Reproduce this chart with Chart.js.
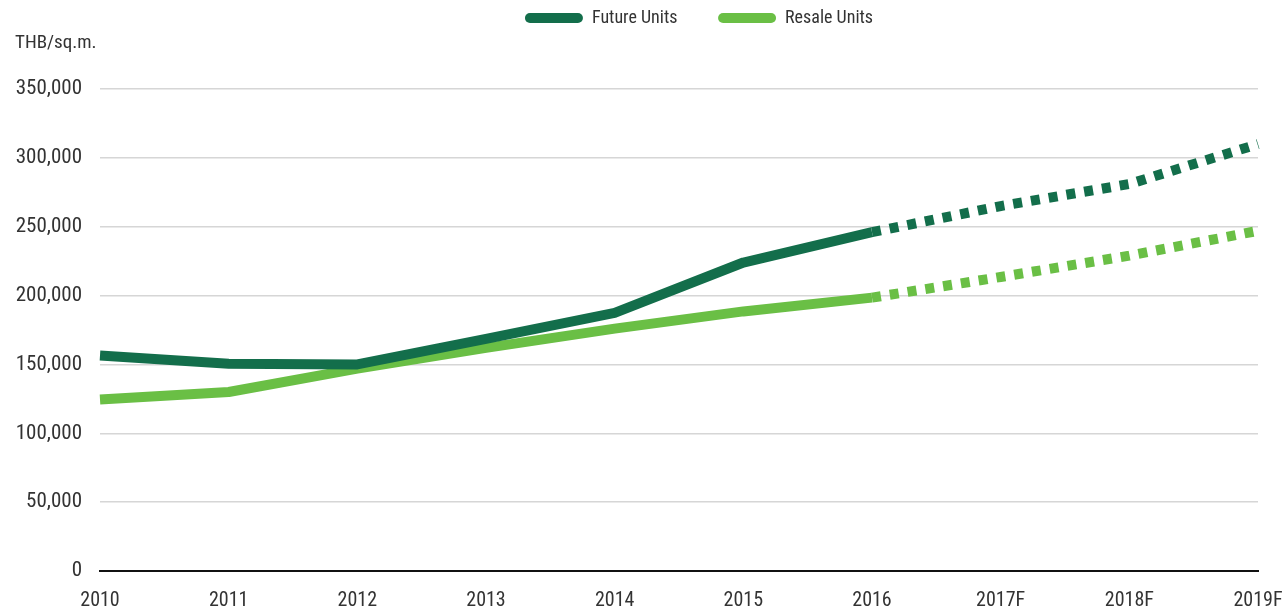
<!DOCTYPE html>
<html>
<head>
<meta charset="utf-8">
<script src="https://cdn.jsdelivr.net/npm/chart.js@4/dist/chart.umd.min.js"></script>
<style>
  html, body { margin: 0; padding: 0; background: #fff; }
  #wrap { width: 1286px; height: 615px; }
</style>
</head>
<body>
<div id="wrap"><canvas id="myChart" width="1286" height="615"></canvas></div>
<script>
// values
const years = ['2010', '2011', '2012', '2013', '2014', '2015', '2016', '2017F', '2018F', '2019F'];
const futureUnits = [156500, 150500, 150000, 168500, 187500, 224000, 246000, 265000, 281000, 310000];
const resaleUnits = [124500, 130000, 147000, 162000, 176000, 188500, 198500, 213500, 229000, 247000];
const yTicks = [0, 50000, 100000, 150000, 200000, 250000, 300000, 350000];

const darkGreen = '#136e4b';
const lightGreen = '#6abf45';
const font = "'Roboto Condensed', 'DejaVu Sans Condensed', sans-serif";
const lastActual = 6; // 2016, after this the forecast is dashed

const forecastDash = ctx => ctx.p0DataIndex >= lastActual ? [9, 9] : undefined;

// legend sits right of the plot centre and the unit label a little higher in the original
const nudgeBoxes = {
  id: 'nudgeBoxes',
  afterLayout(chart) {
    chart.legend.left += 20;
    chart.legend.right += 20;
    chart.titleBlock.top -= 3;
    chart.titleBlock.bottom -= 3;
    chart.titleBlock.left += 3;
  }
};

const ctx = document.getElementById('myChart');
new Chart(ctx, {
  type: 'line',
  data: {
    labels: years,
    datasets: [{
      label: 'Future Units',
      data: futureUnits,
      borderColor: darkGreen,
      backgroundColor: darkGreen,
      borderWidth: 10,
      pointRadius: 0,
      tension: 0,
      borderJoinStyle: 'round',
      segment: { borderDash: forecastDash }
    }, {
      label: 'Resale Units',
      data: resaleUnits,
      borderColor: lightGreen,
      backgroundColor: lightGreen,
      borderWidth: 10,
      pointRadius: 0,
      tension: 0,
      borderJoinStyle: 'round',
      segment: { borderDash: forecastDash }
    }]
  },
  plugins: [nudgeBoxes],
  options: {
    responsive: false,
    animation: false,
    layout: { padding: { left: 12, right: 0, top: 0, bottom: 0 } },
    plugins: {
      tooltip: { enabled: false },
      legend: {
        position: 'top',
        fullSize: false,
        labels: {
          color: '#333',
          font: { family: font, size: 18 },
          boxWidth: 58,
          boxHeight: 10,
          padding: 9,
          useBorderRadius: true,
          borderRadius: 5,
          generateLabels: chart => Chart.defaults.plugins.legend.labels.generateLabels(chart)
            .map((item, i) => Object.assign(item, {
              lineWidth: 0,
              text: i === 0 ? item.text + '\u2003\u2003' : item.text
            }))
        }
      },
      title: {
        display: true,
        text: 'THB/sq.m.',
        align: 'start',
        weight: 500,
        color: '#333',
        font: { family: font, size: 19, weight: 'normal', lineHeight: 1 },
        padding: { top: 0, bottom: 33 }
      }
    },
    scales: {
      x: {
        offset: false,
        afterFit: s => { s.height = 44; s.paddingRight = 28; },
        grid: { display: false, drawTicks: false },
        border: { display: true, color: '#111', width: 2 },
        ticks: {
          color: '#333',
          font: { family: font, size: 20, lineHeight: 1 },
          padding: 20,
          maxRotation: 0,
          autoSkip: false
        }
      },
      y: {
        min: 0,
        max: 350000,
        afterFit: s => { s.width = 88; },
        afterBuildTicks: s => { s.ticks = yTicks.map(v => ({ value: v })); },
        grid: {
          color: ctx => ctx.tick.value === 0 ? 'rgba(0,0,0,0)' : '#d6d6d6',
          lineWidth: 1.5,
          drawTicks: false
        },
        border: { display: false },
        ticks: {
          color: '#333',
          font: { family: font, size: 21 },
          padding: 18,
          callback: v => v.toLocaleString('en-US')
        }
      }
    }
  }
});
</script>
</body>
</html>
